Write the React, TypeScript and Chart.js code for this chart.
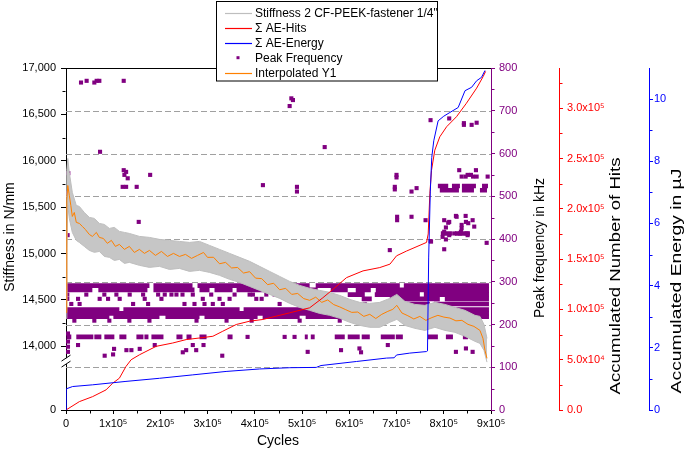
import React, { useEffect, useRef } from 'react';
import { Chart, registerables, LinearScale } from 'chart.js';

Chart.register(...registerables);

// ------------------------------------------------------------------ data
// Interpolated Y1 (orange) – stiffness in N/mm vs cycles
const stiffCycles = [0, 1700, 3800, 7000, 10200, 13400, 17600, 21800, 28200, 34600, 40900, 49400, 55800, 64300, 70600, 79100, 87600, 96100, 104600, 113000, 123700, 134200, 144800, 155400, 166100, 176700, 189400, 202100, 214900, 227600, 240300, 253000, 265800, 278500, 291200, 299700, 312400, 325100, 337900, 350600, 363300, 376100, 388800, 401500, 414300, 427000, 439700, 452400, 465200, 477900, 490600, 503300, 516000, 528800, 541500, 554200, 567000, 579700, 592400, 605100, 617800, 630600, 643300, 656000, 668700, 681500, 692100, 700600, 711200, 723900, 736600, 749300, 762100, 774800, 787500, 800300, 813000, 825700, 838400, 851200, 863900, 876600, 883000, 887200, 891500];
const stiffInterp = [14366, 15573, 15734, 15627, 15519, 15400, 15443, 15336, 15325, 15293, 15260, 15206, 15185, 15228, 15174, 15163, 15110, 15142, 15077, 15099, 15045, 15077, 15012, 15045, 15002, 15034, 14980, 15023, 14969, 15002, 14969, 14991, 14948, 14980, 15012, 14959, 14960, 14890, 14905, 14845, 14850, 14790, 14805, 14735, 14730, 14665, 14680, 14610, 14625, 14560, 14570, 14515, 14496, 14530, 14474, 14500, 14450, 14425, 14395, 14366, 14370, 14323, 14345, 14300, 14345, 14377, 14399, 14442, 14360, 14330, 14295, 14323, 14280, 14310, 14334, 14315, 14305, 14275, 14280, 14237, 14215, 14172, 14086, 13957, 13871];

// Stiffness 2 CF-PEEK-fastener 1/4" (grey, noisy) – read as upper / lower envelope
const bandCycles = [0, 1700, 3800, 7000, 13400, 21800, 28200, 38800, 49400, 60000, 70600, 81200, 91800, 102400, 113000, 123700, 134200, 155400, 176700, 197900, 219100, 240300, 261500, 282700, 303900, 325100, 346400, 367600, 388800, 410000, 431200, 452400, 473600, 494800, 516000, 537200, 558500, 579700, 600900, 622100, 643300, 664500, 685700, 700600, 717600, 738800, 760000, 781200, 802400, 823600, 844800, 866000, 876600, 885100, 891500];
const bandUpper = [14496, 15896, 16025, 15874, 15659, 15519, 15508, 15443, 15390, 15379, 15325, 15314, 15271, 15282, 15239, 15228, 15217, 15185, 15174, 15153, 15142, 15131, 15120, 15131, 15088, 15045, 15002, 14959, 14916, 14862, 14808, 14754, 14700, 14657, 14625, 14603, 14582, 14549, 14506, 14474, 14463, 14474, 14517, 14560, 14485, 14452, 14442, 14474, 14452, 14420, 14388, 14334, 14323, 14237, 14086];
const bandLower = [14302, 15034, 15519, 15379, 15228, 15142, 15120, 15077, 15034, 15013, 15023, 14969, 14959, 14926, 14937, 14894, 14905, 14873, 14851, 14862, 14829, 14840, 14808, 14819, 14797, 14765, 14722, 14689, 14646, 14603, 14560, 14517, 14463, 14420, 14388, 14355, 14334, 14302, 14259, 14226, 14205, 14205, 14259, 14291, 14226, 14194, 14172, 14205, 14172, 14151, 14108, 14054, 14032, 13957, 13828];

// Σ AE-Hits (red)
const hitsCycles = [0, 28200, 56400, 84800, 98800, 113000, 127000, 138000, 156000, 191000, 226000, 254500, 283000, 311000, 332000, 360500, 389000, 417000, 445000, 473600, 516000, 544000, 565500, 594000, 629000, 664500, 686000, 700000, 721000, 763500, 767000, 770500, 774000, 781000, 791600, 806000, 827000, 848000, 869600, 883500, 888600];
const hitsValues = [0, 8300, 13300, 20000, 26600, 31600, 43300, 50000, 55000, 63300, 66600, 70000, 71600, 73300, 78300, 85000, 88300, 90000, 93300, 96600, 101600, 111600, 120000, 131600, 138300, 141600, 145000, 153300, 158000, 166600, 175000, 215000, 238300, 258300, 271600, 281600, 291600, 305000, 320000, 331600, 336600];

// Σ AE-Energy (blue), µJ
const energyCycles = [0, 500, 14000, 56400, 127000, 198000, 268500, 339000, 410000, 474000, 530000, 540000, 615000, 678700, 695000, 700000, 728000, 763500, 765500, 768000, 771500, 774500, 778800, 788000, 800000, 813000, 830500, 845000, 859000, 869600, 880000, 887200];
const energyValues = [0, 0.68, 0.755, 0.81, 0.92, 1.02, 1.13, 1.24, 1.32, 1.36, 1.37, 1.43, 1.56, 1.67, 1.68, 1.77, 1.83, 1.88, 1.9, 4.89, 7.04, 8.12, 8.66, 9.3, 9.45, 9.57, 9.73, 10.27, 10.38, 10.59, 10.7, 10.92];

// Peak Frequency (kHz) – individual hits [cycles, kHz]
const peakPoints: [number, number][] = [
  [31800, 766], [43700, 770], [60000, 766], [64900, 770], [70600, 770], [122200, 770],
  [72100, 604], [122200, 561], [127300, 557], [123700, 550], [130700, 542], [120000, 522], [127300, 522],
  [149700, 522], [178200, 550], [154000, 440], [417000, 526], [4900, 554], [1000, 507], [3400, 409],
  [477200, 729], [480600, 725], [473600, 711], [547800, 615], [489100, 522], [489100, 511],
  [699900, 550], [699900, 544], [696300, 522], [696300, 516], [742400, 519], [731700, 511],
  [701200, 452], [701200, 444], [731700, 452], [761400, 444], [685700, 374], [772000, 395], [890800, 391],
  [772000, 678], [811500, 682], [842600, 671], [842600, 667], [859000, 667], [869600, 672],
  [832700, 561], [868100, 561], [850500, 550], [857500, 550], [837800, 546], [846300, 546], [862000, 546], [869600, 546], [892900, 546],
  [800900, 444], [811500, 440], [825700, 454], [846900, 440], [864500, 429], [804500, 427], [800900, 417], [811500, 409],
  [822100, 413], [836300, 417], [850500, 409], [797500, 405], [804500, 399], [800900, 376], [837800, 433], [837800, 425],
  [846300, 454], [851800, 437], [861100, 444], [809400, 438], [827200, 452], [834200, 413], [848400, 413], [773000, 394],
  [4200, 179], [4200, 160], [4200, 148], [4200, 136],
  [25500, 152], [81900, 127], [101800, 143], [99700, 130], [127900, 140], [138500, 140], [156100, 143], [187900, 152],
  [268500, 152], [254500, 140], [275700, 140], [291200, 152], [247300, 135], [330900, 127], [511800, 136], [582400, 140],
  [621400, 144], [624800, 135], [681500, 152], [825700, 136], [846900, 144], [861100, 136], [883600, 164], [886000, 152],
  [384500, 171], [463000, 171], [484000, 171],
  [2800, 270], [43000, 270], [81200, 270], [106700, 270], [134900, 270], [163300, 270], [195100, 270], [209100, 270],
  [223300, 270], [233900, 270], [246700, 270], [268500, 270], [307500, 270], [357000, 270], [388800, 270], [395800, 270],
  [424200, 270], [441800, 270],
  [2800, 260], [25500, 260], [71300, 260], [89100, 260], [113700, 260], [166700, 260], [202100, 260], [289700, 260],
  [325100, 260], [346400, 260], [403000, 260], [414300, 260], [494800, 260], [537200, 260],
  [11200, 248], [28800, 248], [142100, 248], [173900, 248], [250900, 248], [272100, 248], [293300, 248], [310900, 248],
  [332100, 248], [452400, 248], [579700, 248], [632700, 248],
  [17700, 209], [60000, 209], [91800, 209], [134200, 209], [176700, 209], [276400, 209], [340000, 209], [393100, 209],
  [494800, 209], [579700, 209], [749300, 209], [834200, 209],
];

// Peak Frequency – dense runs of hits [from cycles, to cycles, kHz]
const peakRuns: [number, number, number][] = [
  [1000, 176700, 291], [185200, 267900, 291], [278500, 516000, 291], [528800, 706900, 291], [715400, 895700, 291],
  [1000, 55800, 281], [68500, 172400, 281], [185200, 272100, 281], [282700, 303900, 281], [314500, 352700, 281],
  [361200, 533000, 281], [560600, 596600, 281], [613600, 645400, 281], [656000, 895700, 281],
  [452400, 494800, 270], [596600, 632700, 270], [653900, 749300, 270], [757800, 895700, 270],
  [626200, 647500, 260], [685700, 791600, 260], [802200, 895700, 260],
  [696300, 770500, 248], [779000, 895700, 248],
  [1000, 113000, 235], [121500, 367600, 235], [376100, 895700, 235],
  [1000, 895700, 226],
  [1000, 91800, 218], [100300, 197900, 218], [210600, 282700, 218], [293300, 405700, 218], [416400, 494800, 218], [507500, 895700, 218],
  [1000, 11200, 171], [21800, 57900, 171], [60000, 74900, 171], [81200, 102400, 171], [113000, 127900, 171],
  [149100, 164000, 171], [166100, 174600, 171], [180900, 206400, 171], [233900, 246700, 171], [255200, 265800, 171],
  [282700, 297600, 171], [342100, 352700, 171], [505700, 512000, 171], [518400, 526600, 171], [569100, 590300, 171],
  [596600, 622000, 171], [626200, 643300, 171], [666600, 696300, 171], [698400, 713300, 171], [766300, 787500, 171],
  [804500, 819400, 171], [840500, 851200, 171], [868100, 883000, 171],
  [787500, 809400, 524], [817300, 834200, 524], [838400, 868100, 524], [881000, 893600, 524],
  [791600, 832100, 514], [838400, 863900, 514], [876600, 891500, 514],
  [793800, 817300, 413], [823600, 855400, 413],
];

// axes ticks and labels
const xTicks = [0, 100000, 200000, 300000, 400000, 500000, 600000, 700000, 800000, 900000];
const xTickLabels = ['0', '1x10⁵', '2x10⁵', '3x10⁵', '4x10⁵', '5x10⁵', '6x10⁵', '7x10⁵', '8x10⁵', '9x10⁵'];
const xMinorTicks = [50000, 150000, 250000, 350000, 450000, 550000, 650000, 750000, 850000];
const stiffTicks = [0, 14000, 14500, 15000, 15500, 16000, 16500, 17000];
const stiffTickLabels = ['0', '14,000', '14,500', '15,000', '15,500', '16,000', '16,500', '17,000'];
const stiffMinorTicks = [14250, 14750, 15250, 15750, 16250, 16750];
const pfTicks = [0, 100, 200, 300, 400, 500, 600, 700, 800];
const pfMinorTicks = [50, 150, 250, 350, 450, 550, 650, 750];
const pfGridValues = [100, 200, 300, 400, 500, 600, 700];
const hitsTicks = [0, 50000, 100000, 150000, 200000, 250000, 300000];
const hitsTickLabels = ['0.0', '5.0x10⁴', '1.0x10⁵', '1.5x10⁵', '2.0x10⁵', '2.5x10⁵', '3.0x10⁵'];
const hitsMinorTicks = [25000, 75000, 125000, 175000, 225000, 275000, 325000];
const energyTicks = [0, 2, 4, 6, 8, 10];
const energyMinorTicks = [1, 3, 5, 7, 9];

const legendLabels = ['Stiffness 2 CF-PEEK-fastener 1/4"', 'Σ AE-Hits', 'Σ AE-Energy', 'Peak Frequency', 'Interpolated Y1'];

// ------------------------------------------------------------------ styles
const FONT = '"Liberation Sans", Arial, Helvetica, sans-serif';
const PURPLE = '#800080';
const RED = '#FF0000';
const BLUE = '#0000FF';
const ORANGE = '#FF8000';
const GRAY_LINE = '#BEBEBE';
const GRAY_FILL = '#C6C6C6';
const GRID = '#A0A0A0';

// broken stiffness axis: 0..BREAK_LOW in the bottom part, BREAK_HIGH..STIFF_MAX above
const BREAK_LOW = 500;
const BREAK_HIGH = 13830;
const STIFF_MAX = 17000;
const LOWER_FRAC = 0.14;

class BrokenLinearScale extends LinearScale {
  static id = 'brokenLinear';
  static defaults = {};
  getPixelForValue(value: any) {
    if (value === null || value === undefined || Number.isNaN(+value)) return NaN;
    const v = +value;
    const self: any = this;
    const h = self.bottom - self.top;
    const lowH = h * LOWER_FRAC;
    if (v >= BREAK_HIGH) return self.top + ((STIFF_MAX - v) / (STIFF_MAX - BREAK_HIGH)) * (h - lowH);
    if (v <= BREAK_LOW) return self.bottom - (v / BREAK_LOW) * lowH;
    return self.bottom - lowH;
  }
  getValueForPixel(pixel: number) {
    const self: any = this;
    const h = self.bottom - self.top;
    const lowH = h * LOWER_FRAC;
    const brk = self.bottom - lowH;
    if (pixel <= brk) return STIFF_MAX - ((pixel - self.top) / (h - lowH)) * (STIFF_MAX - BREAK_HIGH);
    return ((self.bottom - pixel) / lowH) * BREAK_LOW;
  }
}
Chart.register(BrokenLinearScale as any);

const tickFont = { family: FONT, size: 11 };

const overlayPlugin = {
  id: 'overlay',
  beforeDatasetsDraw(chart: any) {
    const { ctx, chartArea, scales } = chart;
    const s = scales.yPF;
    ctx.save();
    ctx.strokeStyle = GRID;
    ctx.lineWidth = 1;
    ctx.setLineDash([6, 3]);
    for (const v of pfGridValues) {
      const y = Math.round(s.getPixelForValue(v)) + 0.5;
      ctx.beginPath();
      ctx.moveTo(chartArea.left, y);
      ctx.lineTo(chartArea.right, y);
      ctx.stroke();
    }
    ctx.restore();
  },
  afterDraw(chart: any) {
    const { ctx, chartArea, scales } = chart;
    ctx.save();
    ctx.lineWidth = 1;
    // minor ticks
    const vMinor = (scale: any, values: number[], side: 'left' | 'right', color: string) => {
      ctx.strokeStyle = color;
      const x0 = side === 'left' ? Math.round(scale.right) - 0.5 : Math.round(scale.left) + 0.5;
      const x1 = side === 'left' ? x0 - 3 : x0 + 3;
      for (const v of values) {
        const y = Math.round(scale.getPixelForValue(v)) + 0.5;
        ctx.beginPath(); ctx.moveTo(x0, y); ctx.lineTo(x1, y); ctx.stroke();
      }
    };
    vMinor(scales.y, stiffMinorTicks, 'left', '#000');
    vMinor(scales.yPF, pfMinorTicks, 'right', PURPLE);
    vMinor(scales.yH, hitsMinorTicks, 'right', RED);
    vMinor(scales.yE, energyMinorTicks, 'right', BLUE);
    ctx.strokeStyle = '#000';
    const xs = scales.x;
    const yTop = Math.round(xs.top) + 0.5;
    for (const v of xMinorTicks) {
      const x = Math.round(xs.getPixelForValue(v)) + 0.5;
      ctx.beginPath(); ctx.moveTo(x, yTop); ctx.lineTo(x, yTop + 3); ctx.stroke();
    }
    // top frame
    ctx.strokeStyle = '#000';
    ctx.beginPath();
    ctx.moveTo(chartArea.left, Math.round(chartArea.top) + 0.5);
    ctx.lineTo(chartArea.right, Math.round(chartArea.top) + 0.5);
    ctx.stroke();
    // axis break marks
    const ys = scales.y;
    const bx = ys.right;
    const by = ys.getPixelForValue(BREAK_HIGH) - 1;
    ctx.fillStyle = '#fff';
    ctx.fillRect(bx - 2.5, by - 3, 5, 6);
    ctx.strokeStyle = '#000';
    ctx.beginPath(); ctx.moveTo(bx - 4.5, by); ctx.lineTo(bx + 4.5, by - 6); ctx.stroke();
    ctx.beginPath(); ctx.moveTo(bx - 4.5, by + 6); ctx.lineTo(bx + 4.5, by); ctx.stroke();

    // axis titles
    ctx.fillStyle = '#000';
    ctx.font = `14px ${FONT}`;
    ctx.textAlign = 'center';
    ctx.textBaseline = 'middle';
    ctx.fillText('Cycles', 278, 441);
    const vtext = (t: string, x: number, y: number, stretch = 1) => {
      ctx.save(); ctx.translate(x, y); ctx.rotate(-Math.PI / 2); ctx.scale(stretch, 1); ctx.fillText(t, 0, 0); ctx.restore();
    };
    vtext('Stiffness in N/mm', 10, 237);
    vtext('Peak frequency in kHz', 540, 248);
    vtext('Accumulated Number of Hits', 616, 276, 1.33);
    vtext('Accumulated Energy in µJ', 677, 281, 1.38);

    // legend
    const L = 216.5, T = 1.5, W = 221, H = 79.5;
    ctx.fillStyle = '#fff';
    ctx.fillRect(L, T, W, H);
    ctx.strokeStyle = '#000';
    ctx.lineWidth = 1;
    ctx.strokeRect(L, T, W, H);
    const rows = [12.7, 27.7, 42.7, 57.7, 72.7];
    const colors = [GRAY_LINE, RED, BLUE, PURPLE, ORANGE];
    ctx.font = `12px ${FONT}`;
    ctx.textAlign = 'left';
    legendLabels.forEach((lab, i) => {
      const y = rows[i];
      if (i === 3) {
        ctx.fillStyle = PURPLE;
        ctx.fillRect(236.5, y - 1.5, 3, 3);
      } else {
        ctx.strokeStyle = colors[i];
        ctx.lineWidth = 1.2;
        ctx.beginPath(); ctx.moveTo(225, Math.round(y) + 0.5); ctx.lineTo(252, Math.round(y) + 0.5); ctx.stroke();
      }
      ctx.fillStyle = '#000';
      ctx.fillText(lab, 255, y + 0.5);
    });
    ctx.restore();
  },
};

export default function App() {
  const ref = useRef<HTMLCanvasElement>(null);
  useEffect(() => {
    document.body.style.margin = '0';
    const runData: any[] = [];
    for (const [s, e, k] of peakRuns) {
      runData.push({ x: s, y: k }, { x: e, y: k }, { x: e, y: null });
    }
    const cfg: any = {
      type: 'line',
      data: {
        datasets: [
          {
            label: 'Σ AE-Energy', yAxisID: 'yE', order: 1,
            data: energyCycles.map((x, i) => ({ x, y: energyValues[i] })),
            borderColor: BLUE, borderWidth: 1, pointRadius: 0, fill: false,
          },
          {
            label: 'Σ AE-Hits', yAxisID: 'yH', order: 2,
            data: hitsCycles.map((x, i) => ({ x, y: hitsValues[i] })),
            borderColor: RED, borderWidth: 1, pointRadius: 0, fill: false,
          },
          {
            label: 'Interpolated Y1', yAxisID: 'y', order: 3,
            data: stiffCycles.map((x, i) => ({ x, y: stiffInterp[i] })),
            borderColor: ORANGE, borderWidth: 1, pointRadius: 0, fill: false,
          },
          {
            label: 'Stiffness lower', yAxisID: 'y', order: 4,
            data: bandCycles.map((x, i) => ({ x, y: bandLower[i] })),
            borderColor: GRAY_LINE, borderWidth: 1, pointRadius: 0, fill: false,
          },
          {
            label: 'Stiffness 2 CF-PEEK-fastener 1/4"', yAxisID: 'y', order: 4,
            data: bandCycles.map((x, i) => ({ x, y: bandUpper[i] })),
            borderColor: GRAY_LINE, borderWidth: 1, pointRadius: 0, fill: '-1', backgroundColor: GRAY_FILL,
          },
          {
            label: 'Peak Frequency runs', yAxisID: 'yPF', order: 6,
            data: runData, borderColor: PURPLE, borderWidth: 4.6, borderCapStyle: 'butt',
            pointRadius: 0, spanGaps: false, fill: false,
          },
          {
            label: 'Peak Frequency', yAxisID: 'yPF', order: 7,
            data: peakPoints.map(([x, y]) => ({ x, y })),
            showLine: false, pointStyle: 'rect', pointRadius: 2.9,
            pointBackgroundColor: PURPLE, pointBorderWidth: 0, pointBorderColor: PURPLE,
          },
        ],
      },
      options: {
        responsive: false,
        animation: false,
        devicePixelRatio: 1,
        events: [],
        layout: { padding: { top: 68, left: 0, right: 0, bottom: 0 } },
        plugins: { legend: { display: false }, tooltip: { enabled: false } },
        scales: {
          x: {
            type: 'linear', position: 'bottom', min: 0, max: 900000,
            afterBuildTicks: (s: any) => { s.ticks = xTicks.map((v) => ({ value: v })); },
            ticks: {
              autoSkip: false, maxRotation: 0, minRotation: 0, padding: 3, color: '#000', font: tickFont,
              callback: (_v: any, i: number) => xTickLabels[i],
            },
            grid: { drawOnChartArea: false, drawTicks: true, tickLength: 4, color: '#000' },
            border: { color: '#000', width: 1 },
            afterFit: (s: any) => { s.height = 41; },
          },
          y: {
            type: 'brokenLinear', position: 'left', min: 0, max: STIFF_MAX,
            afterBuildTicks: (s: any) => { s.ticks = stiffTicks.map((v) => ({ value: v })); },
            ticks: {
              autoSkip: false, padding: 5, color: '#000', font: tickFont,
              callback: (_v: any, i: number) => stiffTickLabels[i],
            },
            grid: { drawOnChartArea: false, drawTicks: true, tickLength: 5, color: '#000' },
            border: { color: '#000', width: 1 },
            afterFit: (s: any) => { s.width = 66; },
          },
          yPF: {
            type: 'linear', position: 'right', min: 0, max: 800,
            afterBuildTicks: (s: any) => { s.ticks = pfTicks.map((v) => ({ value: v })); },
            ticks: { autoSkip: false, padding: 4, color: PURPLE, font: tickFont, callback: (v: any) => String(v) },
            grid: { drawOnChartArea: false, drawTicks: true, tickLength: 4, color: PURPLE },
            border: { color: PURPLE, width: 1 },
            afterFit: (s: any) => { s.width = 68; },
          },
          yH: {
            type: 'linear', position: 'right', min: 0, max: 340000,
            afterBuildTicks: (s: any) => { s.ticks = hitsTicks.map((v) => ({ value: v })); },
            ticks: {
              autoSkip: false, padding: 4, color: RED, font: tickFont,
              callback: (_v: any, i: number) => hitsTickLabels[i],
            },
            grid: { drawOnChartArea: false, drawTicks: true, tickLength: 4, color: RED },
            border: { color: RED, width: 1 },
            afterFit: (s: any) => { s.width = 90; },
          },
          yE: {
            type: 'linear', position: 'right', min: 0, max: 11,
            afterBuildTicks: (s: any) => { s.ticks = energyTicks.map((v) => ({ value: v })); },
            ticks: { autoSkip: false, padding: 1, color: BLUE, font: tickFont, callback: (v: any) => String(v) },
            grid: { drawOnChartArea: false, drawTicks: true, tickLength: 4, color: BLUE },
            border: { color: BLUE, width: 1 },
            afterFit: (s: any) => { s.width = 36; },
          },
        },
      },
      plugins: [overlayPlugin],
    };
    const chart = new Chart(ref.current as HTMLCanvasElement, cfg);
    return () => chart.destroy();
  }, []);
  return (
    <div style={{ width: 685, height: 451 }}>
      <canvas ref={ref} width={685} height={451} style={{ display: 'block', width: 685, height: 451 }} />
    </div>
  );
}
